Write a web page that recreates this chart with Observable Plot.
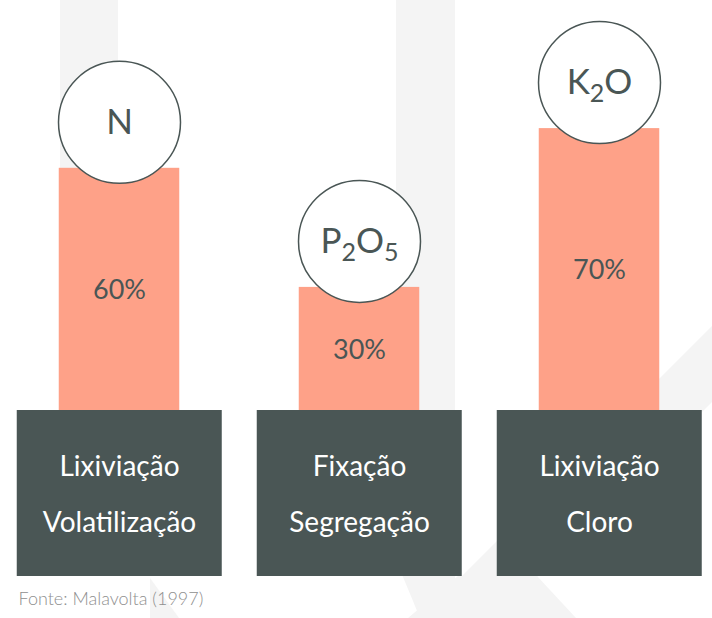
<!DOCTYPE html>
<html>
<head>
<meta charset="utf-8">
<script src="https://cdn.jsdelivr.net/npm/d3@7"></script>
<script src="https://cdn.jsdelivr.net/npm/@observablehq/plot@0.6"></script>
<style>
  body { margin: 0; background: #ffffff; }
  #chart {
    position: relative; width: 712px; height: 618px; overflow: hidden;
    background-repeat: no-repeat;
    background-image: url("data:image/svg+xml;utf8,<svg xmlns='http://www.w3.org/2000/svg' width='712' height='618'><g fill='%23f4f4f4'><rect x='60' y='0' width='58' height='175'/><path d='M396,0H455V583L712,326V402L496,618H420L396,560Z'/><path d='M458,576H537L576,618H408Z'/><path d='M150,578L179,618H150Z'/></g></svg>");
  }
  #chart svg { display: block; }
</style>
</head>
<body>
<div id="chart"></div>
<script>
// Nutrient loss in soil (Malavolta, 1997)
const nutrients = ["N", "P2O5", "K2O"];
const losses = [60, 30, 70];
const lossLabels = ["60%", "30%", "70%"];
const processes = ["Lixiviação\nVolatilização", "Fixação\nSegregação", "Lixiviação\nCloro"];
const source = "Fonte: Malavolta (1997)";

const dark = "#4a5655";
const salmon = "#fea188";

const data = nutrients.map((n, i) => ({
  nutrient: n, value: losses[i], label: lossLabels[i], process: processes[i]
}));

const plot = Plot.plot({
  width: 712,
  height: 618,
  margin: 0,
  style: { background: "transparent", fontFamily: "Lato, 'Open Sans', sans-serif", overflow: "visible" },
  x: { type: "band", domain: nutrients, range: [-1.75, 719.75], padding: 0, axis: null },
  y: { domain: [0, 100], range: [406, 9], axis: null },
  marks: [
    Plot.barY(data, { x: "nutrient", y: "value", insetLeft: 59.75, insetRight: 59.75, insetBottom: -6, fill: salmon }),
    Plot.barY(data, { x: "nutrient", y1: 0, y2: 0, insetLeft: 17.75, insetRight: 17.25, insetTop: 4, insetBottom: -170, fill: dark }),
    Plot.text(data, { x: "nutrient", y: d => d.value / 2, dy: 3, text: "label", fontSize: 27, fill: dark }),
    Plot.dot(data, { x: "nutrient", y: "value", dy: -46, r: 61, fill: "white", stroke: dark, strokeWidth: 1.5 }),
    Plot.text(data, { x: "nutrient", y: "value", dy: -46, text: "nutrient", fontSize: 35, fill: dark }),
    Plot.text(data, { x: "nutrient", y: 0, dy: 80, text: "process", fontSize: 28, lineHeight: 2.0, fill: "white" }),
    Plot.text([source], { frameAnchor: "bottom-left", dx: 18, dy: -14, text: d => d, textAnchor: "start", fontSize: 18, fontWeight: 300, fill: "#8f8f8f" })
  ]
});

// render chemical subscripts (P2O5 → P₂O₅) as real tspans
d3.select(plot).selectAll("text").each(function () {
  const t = this.textContent;
  if (!nutrients.includes(t) || !/\d/.test(t)) return;
  const el = d3.select(this);
  el.text(null);
  const parts = t.match(/[A-Za-z]+|\d+/g);
  let sub = false;
  parts.forEach(p => {
    const isNum = /\d/.test(p);
    const ts = el.append("tspan").text(p);
    if (isNum) { ts.attr("font-size", 25).attr("dy", sub ? 0 : 8); sub = true; }
    else { if (sub) ts.attr("dy", -8); sub = false; }
  });
});

document.getElementById("chart").appendChild(plot);
</script>
</body>
</html>
